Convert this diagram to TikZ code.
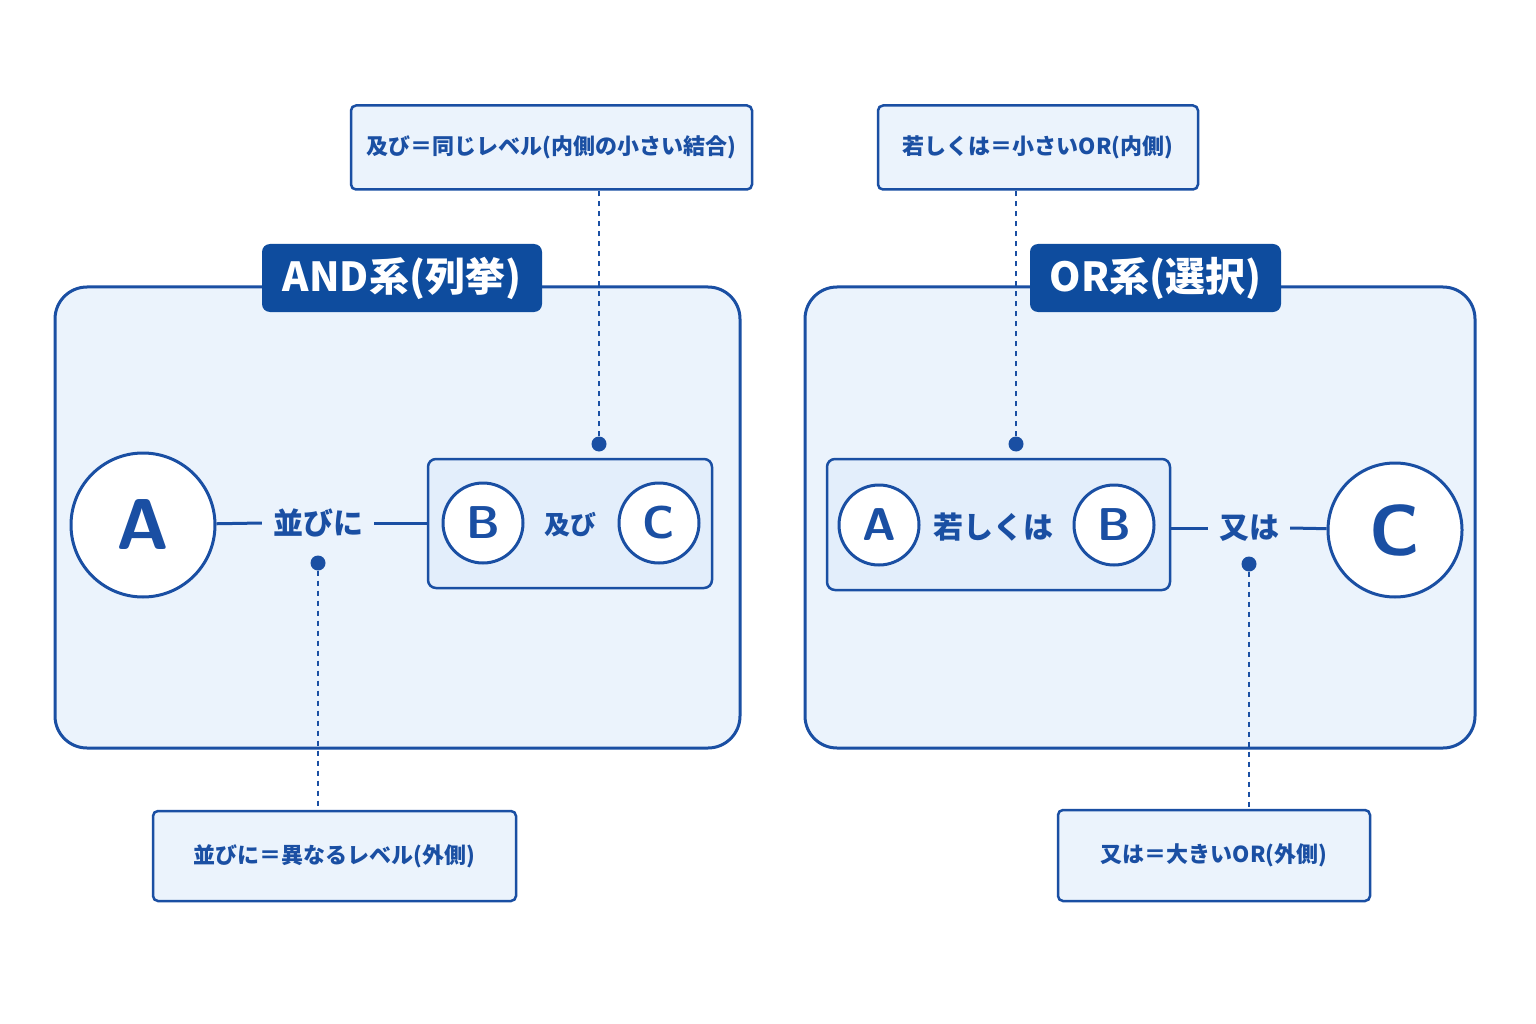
\documentclass[tikz,border=0pt]{standalone}
\usepackage{fontspec}
\setmainfont{Noto Sans CJK JP}
\definecolor{dk}{HTML}{1A4FA3}
\definecolor{tag}{HTML}{0E4C9E}
\definecolor{lt}{HTML}{EBF3FC}
\definecolor{lt2}{HTML}{E3EEFB}
\begin{document}
\begin{tikzpicture}[x=1pt,y=-1pt,
 panel/.style={draw=dk,line width=3pt,fill=lt,rounded corners=32pt},
 inner/.style={draw=dk,line width=2.5pt,fill=lt2,rounded corners=8pt},
 note/.style={draw=dk,line width=2.5pt,fill=lt,rounded corners=5pt,font=\fontsize{22}{24}\selectfont\bfseries,text=dk,minimum height=84pt,inner xsep=10pt},
 tagn/.style={fill=tag,rounded corners=8pt,text=white,font=\fontsize{40}{44}\selectfont\bfseries,minimum height=68pt},
 bigc/.style={circle,draw=dk,line width=3pt,fill=white,text=dk,font=\fontsize{72}{76}\selectfont\sffamily\bfseries},
 smc/.style={circle,draw=dk,line width=3pt,fill=white,text=dk,minimum size=80pt,inner sep=0pt,font=\fontsize{46}{50}\selectfont\sffamily\bfseries},
 lbl/.style={text=dk,font=\fontsize{30}{32}\selectfont\bfseries,fill=none,inner xsep=11pt},
 con/.style={draw=dk,line width=3pt},
 dsh/.style={draw=dk,line width=2.5pt,dash pattern=on 5pt off 5pt},
 dot/.style={circle,fill=dk,minimum size=15pt,inner sep=0pt}]
\useasboundingbox (0,0) rectangle (1536,1024);
\fill[white] (0,0) rectangle (1536,1024);
% left
\draw[panel] (55,287) rectangle (740,748);
\node[tagn,minimum width=280pt] (t1) at (402,278) {AND系(列挙)};
\draw[inner] (428,459) rectangle (712,588);
\node[bigc,minimum size=144pt,inner sep=0pt] (A1) at (143,525) {A};
\node[lbl] (l1) at (318,523) {並びに};
\node[smc] (B1) at (483,523) {B};
\node[lbl,font=\fontsize{26}{28}\selectfont\bfseries] (l2) at (570,525) {及び};
\node[smc] (C1) at (659,523) {C};
\coordinate (in1) at (428,523);
\draw[con] (A1) -- (l1.west);
\draw[con] (l1.east) -- (in1);
\node[note,minimum width=401pt] (n1) at (551.5,147.5) {及び＝同じレベル(内側の小さい結合)};
\node[dot] (d1) at (599,444) {};
\draw[dsh] (d1) -- (d1|-n1.south);
\node[note,minimum width=363pt,minimum height=90pt] (n2) at (334.5,856) {並びに＝異なるレベル(外側)};
\node[dot] (d2) at (318,563) {};
\draw[dsh] (d2) -- (d2|-n2.north);
% right
\draw[panel] (805,287) rectangle (1475,748);
\node[tagn,minimum width=251pt] (t2) at (1155.5,278) {OR系(選択)};
\draw[inner] (827,459) rectangle (1170,590);
\node[smc] (A2) at (879,525) {A};
\node[lbl] (l3) at (993,527) {若しくは};
\node[smc] (B2) at (1114,525) {B};
\node[lbl] (l4) at (1249,528) {又は};
\node[bigc,minimum size=134pt,inner sep=0pt] (C2) at (1395,530) {C};
\coordinate (in2) at (1170,528);
\draw[con] (in2) -- (l4.west);
\draw[con] (l4.east) -- (C2);
\node[note,minimum width=320pt] (n3) at (1038,147.5) {若しくは＝小さいOR(内側)};
\node[dot] (d3) at (1016,444) {};
\draw[dsh] (d3) -- (d3|-n3.south);
\node[note,minimum width=312pt,minimum height=91pt] (n4) at (1214,855.5) {又は＝大きいOR(外側)};
\node[dot] (d4) at (1249,564) {};
\draw[dsh] (d4) -- (d4|-n4.north);
\end{tikzpicture}
\end{document}
